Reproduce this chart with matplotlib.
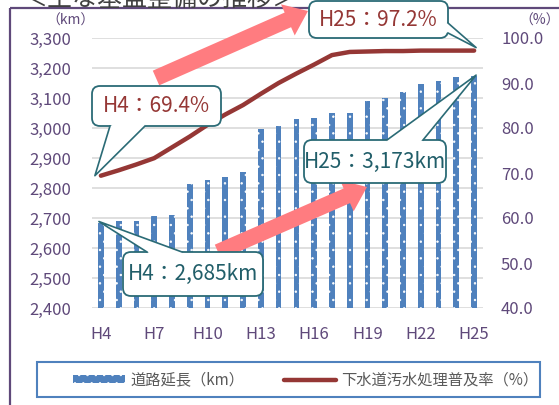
import numpy as np
import matplotlib
matplotlib.use("Agg")
import matplotlib.pyplot as plt
from matplotlib.patches import FancyBboxPatch, Polygon, Rectangle, FancyArrow

plt.rcParams['font.family'] = ['Noto Sans CJK JP', 'DejaVu Sans']
plt.rcParams['hatch.linewidth'] = 0.5

# data
years = [f'H{i}' for i in range(4, 26)]
road_km = [2685, 2690, 2690, 2707, 2710, 2813, 2827, 2838, 2853, 2997, 3007,
           3030, 3034, 3049, 3050, 3090, 3101, 3120, 3147, 3158, 3169, 3173]
sewer_pct = [69.4, 70.6, 71.9, 73.3, 75.7, 78.1, 80.7, 83.0, 85.1, 87.6, 90.0,
             92.1, 94.1, 96.2, 96.9, 97.0, 97.1, 97.1, 97.2, 97.2, 97.2, 97.2]
km_ticks = list(range(2400, 3301, 100))
pct_ticks = list(range(40, 101, 10))
tick_years = years[::3]

W, H = 559, 405
purple = '#5f497a'
bar_blue = '#4f81bd'
line_red = '#953735'
teal = '#2b6b76'
pink = '#ff7c80'

fig = plt.figure(figsize=(W / 100, H / 100), dpi=100)
ax = fig.add_axes([92 / W, (H - 308) / H, 391 / W, 270 / H])
ax2 = ax.twinx()

x = np.arange(len(years))
bars = ax.bar(x, road_km, width=0.32, color=bar_blue, edgecolor='white',
              hatch='..', linewidth=0, label='道路延長（km）')
line, = ax2.plot(x, sewer_pct, color=line_red, lw=3.2, solid_capstyle='round',
                 label='下水道汚水処理普及率（%）')

ax.set_xlim(-0.5, len(years) - 0.5)
ax.set_ylim(2400, 3300)
ax2.set_ylim(40, 100)
ax.set_yticks(km_ticks)
ax.set_yticklabels([f'{v:,}' for v in km_ticks])
ax2.set_yticks(pct_ticks)
ax2.set_yticklabels([f'{v:.1f}' for v in pct_ticks])
ax.set_xticks(x[::3])
ax.set_xticklabels(tick_years)

ax.yaxis.grid(True, color='#d9d9d9', lw=1.2)
ax.set_axisbelow(True)
for a in (ax, ax2):
    for s in a.spines.values():
        s.set_visible(False)
ax.tick_params(axis='y', length=0, pad=15, labelsize=12, labelcolor=purple)
ax.tick_params(axis='x', length=0, pad=13, labelsize=12, labelcolor=purple)
ax2.tick_params(axis='y', length=0, pad=13, labelsize=12, labelcolor=purple)

# overlay in image pixel coordinates for callouts, arrows, frame
ov = fig.add_axes([0, 0, 1, 1], zorder=3)
ov.set_xlim(0, W)
ov.set_ylim(H, 0)
ov.axis('off')


def to_img(a, xv, yv):
    px, py = a.transData.transform((xv, yv))
    return px, H - py


# outer frame and title (cut off at the top, as in the source image)
ov.plot([10, 10], [H, 8], color=purple, lw=1.6, solid_capstyle='butt')
ov.plot([10, W], [8, 8], color=purple, lw=1.6, solid_capstyle='butt')
ov.text(160, 6, '＜主な基盤整備の推移＞', ha='center', va='baseline', fontsize=18,
        color='#404040')

ov.text(70, 21, '（km）', ha='center', va='center', fontsize=10, color=purple)
ov.text(540, 21, '（%）', ha='center', va='center', fontsize=10, color=purple)

# pink arrows
for (x0, y0), (x1, y1) in [((156, 78), (308, 11)), ((218, 252), (367, 187))]:
    ov.add_patch(FancyArrow(x0, y0, x1 - x0, y1 - y0, width=16, head_width=34,
                            head_length=22, length_includes_head=True,
                            color=pink, lw=0, zorder=4))


def callout(box, text, tcolor, b1, b2, tip):
    x0, y0, x1, y1 = box
    ov.add_patch(FancyBboxPatch((x0, y0), x1 - x0, y1 - y0,
                                boxstyle='round,pad=0,rounding_size=8',
                                fc='white', ec=teal, lw=1.3, zorder=5))
    cx, cy = (x0 + x1) / 2, (y0 + y1) / 2
    def inward(p):
        return (p[0] + (cx - p[0]) * 0.12, p[1] + (cy - p[1]) * 0.12)
    ov.add_patch(Polygon([inward(b1), b1, tip, b2, inward(b2)], closed=True,
                         fc='white', ec='none', zorder=6))
    ov.plot([b1[0], tip[0], b2[0]], [b1[1], tip[1], b2[1]], color=teal,
            lw=1.2, zorder=7)
    ov.text(cx, cy, text, ha='center', va='center', fontsize=15, color=tcolor,
            zorder=8)


tx, ty = to_img(ax2, 0, sewer_pct[0])
callout((92, 86, 221, 126), f'H4：{sewer_pct[0]}%', line_red,
        (110, 126), (145, 126), (tx - 6, ty))
tx, ty = to_img(ax2, len(years) - 1, sewer_pct[-1])
callout((309, 1, 448, 38), f'H25：{sewer_pct[-1]}%', line_red,
        (448, 23), (448, 33), (tx + 2, ty - 3))
tx, ty = to_img(ax, len(years) - 1, road_km[-1])
callout((304, 140, 446, 183), f'H25：{road_km[-1]:,}km', '#215e69',
        (387, 140), (423, 140), (tx + 2, ty - 1))
tx, ty = to_img(ax, 0, road_km[0])
callout((123, 252, 263, 296), f'H4：{road_km[0]:,}km', '#215e69',
        (147, 252), (182, 252), (tx - 2, ty - 1))

# legend
ov.add_patch(Rectangle((37, 362), 503, 35, fc='white', ec=bar_blue, lw=1.5,
                       zorder=4))
fig.legend(handles=[bars, line], loc='center left',
           bbox_to_anchor=(73 / W, (H - 380) / H), ncol=2, frameon=False,
           fontsize=11, handlelength=3.4, handleheight=0.45,
           handletextpad=0.35, columnspacing=2.6, borderpad=0,
           borderaxespad=0, labelcolor='#595959')

fig.savefig('out.png', dpi=100)
